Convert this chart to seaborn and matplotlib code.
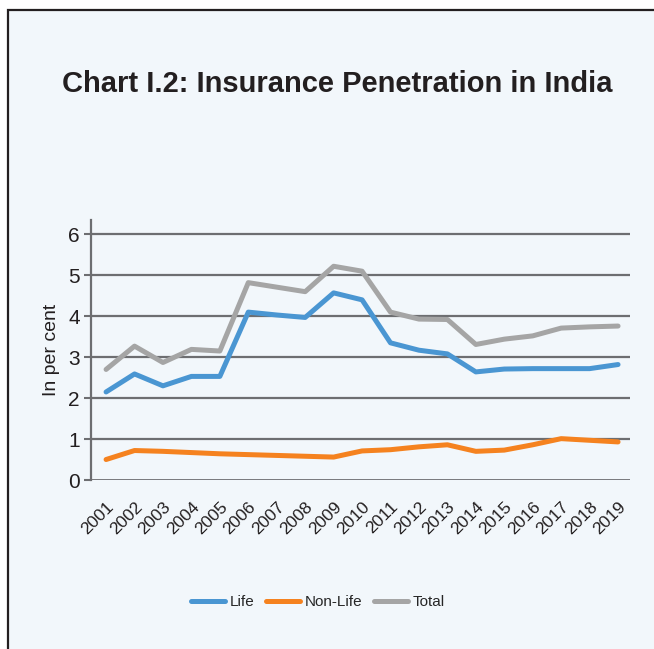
import pandas as pd
import matplotlib.pyplot as plt
import seaborn as sns
from matplotlib.patches import Rectangle

years = [str(y) for y in range(2001, 2020)]
life = [2.15, 2.59, 2.30, 2.53, 2.53, 4.10, 4.03, 3.97, 4.57, 4.40,
        3.35, 3.17, 3.08, 2.64, 2.71, 2.72, 2.72, 2.72, 2.82]
non_life = [0.50, 0.72, 0.70, 0.67, 0.64, 0.62, 0.60, 0.58, 0.56, 0.71,
            0.74, 0.81, 0.86, 0.70, 0.73, 0.86, 1.01, 0.97, 0.93]
total = [2.70, 3.27, 2.87, 3.19, 3.15, 4.82, 4.71, 4.60, 5.22, 5.10,
         4.10, 3.93, 3.92, 3.31, 3.44, 3.52, 3.71, 3.74, 3.76]

series = ["Life", "Non-Life", "Total"]
colors = {"Life": "#4A96D2", "Non-Life": "#F5821F", "Total": "#A5A5A5"}

df = pd.DataFrame({"year": years * 3,
                   "value": life + non_life + total,
                   "series": [s for s in series for _ in years]})

sns.set_style("white")
plt.rcParams["font.family"] = ["Liberation Sans", "DejaVu Sans"]

bg = "#F2F7FB"
fig = plt.figure(figsize=(6.54, 6.49), dpi=100, facecolor="white")
fig.patches.append(Rectangle((8 / 654, -0.1), 1.2, 1.1 - 10 / 649,
                             transform=fig.transFigure, facecolor=bg,
                             edgecolor="#231F20", linewidth=1.6, zorder=-1))
ax = fig.add_axes([91 / 654, 1 - 480 / 649, (630 - 91) / 654, (480 - 220) / 649])
ax.set_facecolor(bg)
ax.patch.set_alpha(0)

sns.lineplot(data=df, x="year", y="value", hue="series", palette=colors,
             linewidth=3.6, ax=ax, sort=False, zorder=3)

ax.set_ylim(0, 6.35)
ax.set_xlim(-0.53, 18.42)
ax.set_yticks(range(0, 7))
for v in range(1, 7):
    ax.axhline(v, color="#6D6E71", linewidth=1.6, zorder=1)
ax.axhline(0, color="#6D6E71", linewidth=2, zorder=1)

for s in ["top", "right", "bottom"]:
    ax.spines[s].set_visible(False)
ax.spines["left"].set_color("#6D6E71")
ax.spines["left"].set_linewidth(1.6)

ax.tick_params(axis="y", length=5, width=1.5, color="#6D6E71", labelsize=15,
               labelcolor="#231F20", pad=3, left=True)
ax.tick_params(axis="x", length=0, labelsize=12.5, labelcolor="#231F20", pad=14)
plt.setp(ax.get_xticklabels(), rotation=45, ha="right", rotation_mode="anchor")
ax.set_xlabel("")
ax.set_ylabel("In per cent", fontsize=14, color="#231F20", labelpad=6)

fig.text(337 / 654, 1 - 84 / 649, "Chart I.2: Insurance Penetration in India",
         ha="center", va="center", fontsize=21, fontweight="bold", color="#231F20")

handles, labels = ax.get_legend_handles_labels()
ax.legend(handles, labels, loc="center", bbox_to_anchor=(318 / 654, 1 - 602 / 649),
          bbox_transform=fig.transFigure, ncol=3, frameon=False, fontsize=11,
          handlelength=2.2, handletextpad=0.3, columnspacing=0.8)

fig.savefig("out.png", dpi=100, facecolor=fig.get_facecolor())
